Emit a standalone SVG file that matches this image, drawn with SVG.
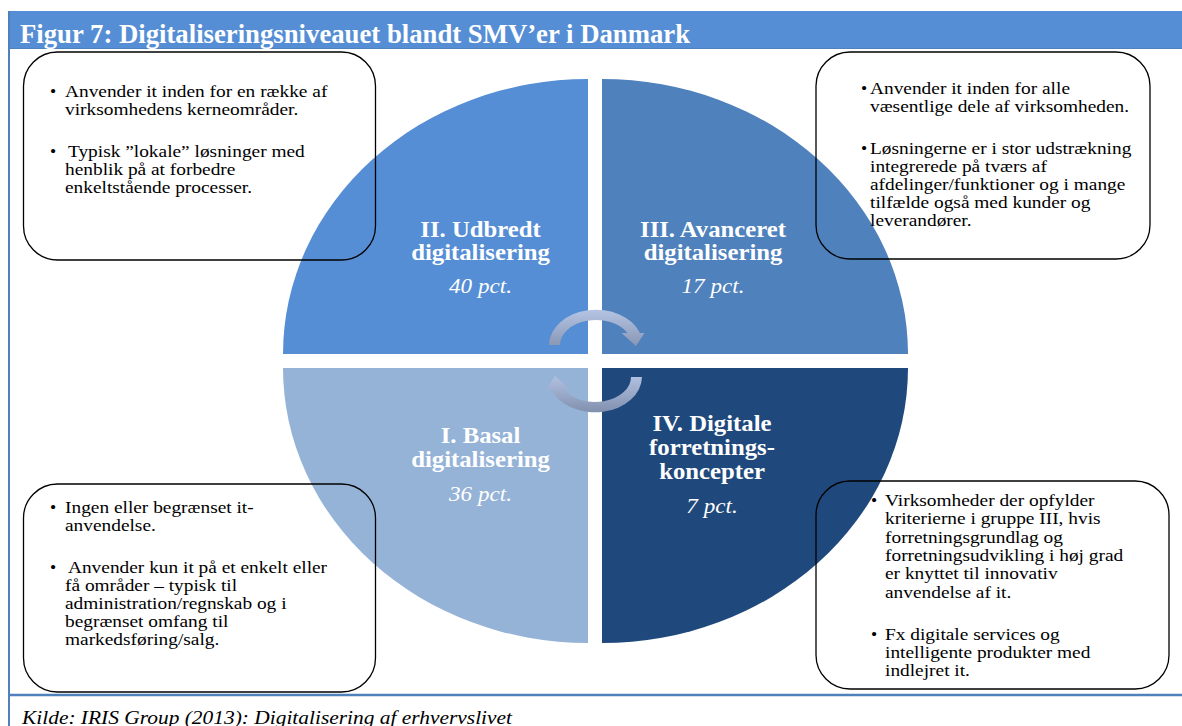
<svg xmlns="http://www.w3.org/2000/svg" width="1182" height="726" viewBox="0 0 1182 726">
<defs>
<style>
.body{font-family:"Liberation Serif","Times New Roman",serif;font-size:17.6px;fill:#000}
.bul{font-family:"Liberation Serif","Times New Roman",serif;font-size:17.6px;fill:#000}
.lbl{font-family:"Liberation Serif","Times New Roman",serif;font-weight:bold;font-size:24px;fill:#fff;text-anchor:middle}
.pct{font-family:"Liberation Serif","Times New Roman",serif;font-style:italic;font-size:22px;fill:#fff;text-anchor:middle}
.box{fill:none;stroke:#000;stroke-width:1.3}
.frame{stroke:#4F81BD;fill:none}
</style>
<linearGradient id="gA" x1="0" y1="0" x2="0" y2="1">
<stop offset="0" stop-color="#B5C4E3"/>
<stop offset="1" stop-color="#8997B5"/>
</linearGradient>
<linearGradient id="gB" x1="0" y1="1" x2="0" y2="0">
<stop offset="0" stop-color="#B2C1E1"/>
<stop offset="1" stop-color="#8190AE"/>
</linearGradient>
</defs>
<rect width="1182" height="726" fill="#fff"/>
<!-- frame -->
<rect x="9" y="11" width="1173" height="38" fill="#558ED5"/>
<line class="frame" x1="9" y1="48.5" x2="1182" y2="48.5" stroke-width="1"/>
<line class="frame" x1="9" y1="11" x2="9" y2="726" stroke-width="2"/>
<line class="frame" x1="9" y1="695" x2="1182" y2="695" stroke-width="2.5"/>
<text x="20" y="43" font-family="'Liberation Serif','Times New Roman',serif" font-weight="bold" font-size="27.5" fill="#fff" textLength="670" lengthAdjust="spacingAndGlyphs">Figur 7: Digitaliseringsniveauet blandt SMV’er i Danmark</text>

<g id="q2">
<path d="M588,354 L283,354 A305 275 0 0 1 588,79 Z" fill="#558ED5"/>
<text class="lbl" transform="translate(480.5,236.5) scale(1.03,1)"><tspan x="0" y="0">II. Udbredt</tspan><tspan x="0" y="24">digitalisering</tspan></text>
<text class="pct" transform="translate(480.5,293) scale(1.05,1)">40 pct.</text>
</g>
<g id="q3">
<path d="M602,354 L602,79 A306 275 0 0 1 908,354 Z" fill="#4F81BD"/>
<text class="lbl" transform="translate(713,236.5) scale(1.03,1)"><tspan x="0" y="0">III. Avanceret</tspan><tspan x="0" y="24">digitalisering</tspan></text>
<text class="pct" transform="translate(713,293) scale(1.05,1)">17 pct.</text>
</g>
<g id="q1">
<path d="M588,368 L588,643 A305 275 0 0 1 283,368 Z" fill="#95B3D7"/>
<text class="lbl" transform="translate(480.5,443) scale(1.03,1)"><tspan x="0" y="0">I. Basal</tspan><tspan x="0" y="24">digitalisering</tspan></text>
<text class="pct" transform="translate(480.5,500.5) scale(1.05,1)">36 pct.</text>
</g>
<g id="q4">
<path d="M602,368 L908,368 A306 275 0 0 1 602,643 Z" fill="#1F497D"/>
<text class="lbl" transform="translate(712,430.5) scale(1.03,1)"><tspan x="0" y="0">IV. Digitale</tspan><tspan x="0" y="24.5">forretnings-</tspan><tspan x="0" y="48.5">koncepter</tspan></text>
<text class="pct" transform="translate(712,513) scale(1.05,1)">7 pct.</text>
</g>

<g id="connectors">
<path d="M549,345 A47 36 0 0 1 640,333 L644.5,333 L636,346 L621.5,333 L627.6,333 A36 25 0 0 0 560,345 Z" fill="url(#gA)"/>
<path d="M549,345 A47 36 0 0 1 640,333 L644.5,333 L636,346 L621.5,333 L627.6,333 A36 25 0 0 0 560,345 Z" fill="url(#gB)" transform="rotate(180,595.5,361)"/>
</g>

<g id="box2">
<rect class="box" x="23.5" y="52" width="352" height="208" rx="34" ry="34"/>
<text class="bul" x="50" y="97">•</text>
<text class="bul" x="50" y="157">•</text>
<text class="body" transform="translate(65,97) scale(1.1,1)"><tspan x="0" y="0">Anvender it inden for en række af</tspan><tspan x="0" y="18">virksomhedens kerneområder.</tspan><tspan x="2.7" y="60">Typisk ”lokale” løsninger med</tspan><tspan x="0" y="78">henblik på at forbedre</tspan><tspan x="0" y="96">enkeltstående processer.</tspan></text>
</g>
<g id="box3">
<rect class="box" x="816" y="52" width="334" height="207" rx="34" ry="34"/>
<text class="bul" x="861" y="94">•</text>
<text class="bul" x="861" y="154">•</text>
<text class="body" transform="translate(870,94) scale(1.1,1)"><tspan x="0" y="0">Anvender it inden for alle</tspan><tspan x="0" y="18">væsentlige dele af virksomheden.</tspan><tspan x="0" y="60">Løsningerne er i stor udstrækning</tspan><tspan x="0" y="78">integrerede på tværs af</tspan><tspan x="0" y="96">afdelinger/funktioner og i mange</tspan><tspan x="0" y="114">tilfælde også med kunder og</tspan><tspan x="0" y="132">leverandører.</tspan></text>
</g>
<g id="box1">
<rect class="box" x="23.5" y="484" width="352" height="208" rx="34" ry="34"/>
<text class="bul" x="50" y="513">•</text>
<text class="bul" x="50" y="573">•</text>
<text class="body" transform="translate(65,513) scale(1.1,1)"><tspan x="0" y="0">Ingen eller begrænset it-</tspan><tspan x="0" y="18">anvendelse.</tspan><tspan x="2.7" y="60">Anvender kun it på et enkelt eller</tspan><tspan x="0" y="78">få områder – typisk til</tspan><tspan x="0" y="96">administration/regnskab og i</tspan><tspan x="0" y="114">begrænset omfang til</tspan><tspan x="0" y="132">markedsføring/salg.</tspan></text>
</g>
<g id="box4">
<rect class="box" x="816" y="481" width="353" height="208" rx="34" ry="34"/>
<text class="bul" x="871" y="506">•</text>
<text class="bul" x="871" y="640">•</text>
<text class="body" transform="translate(885,506) scale(1.1,1)"><tspan x="0" y="0">Virksomheder der opfylder</tspan><tspan x="0" y="18.5">kriterierne i gruppe III, hvis</tspan><tspan x="0" y="37">forretningsgrundlag og</tspan><tspan x="0" y="55">forretningsudvikling i høj grad</tspan><tspan x="0" y="73.5">er knyttet til innovativ</tspan><tspan x="0" y="92">anvendelse af it.</tspan><tspan x="0" y="134">Fx digitale services og</tspan><tspan x="0" y="152">intelligente produkter med</tspan><tspan x="0" y="170">indlejret it.</tspan></text>
</g>

<text x="22" y="724" font-family="'Liberation Serif','Times New Roman',serif" font-style="italic" font-size="19.5" fill="#000" textLength="490" lengthAdjust="spacingAndGlyphs">Kilde: IRIS Group (2013): Digitalisering af erhvervslivet</text>
</svg>
